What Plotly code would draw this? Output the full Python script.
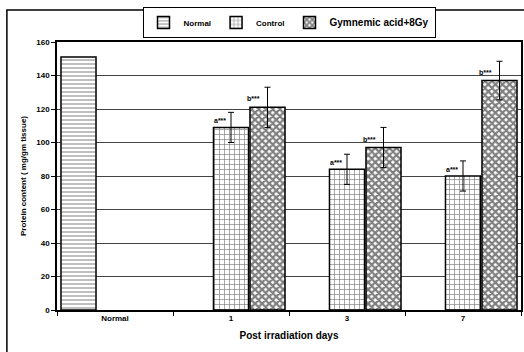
import plotly.graph_objects as go

categories = ["Normal", "1", "3", "7"]
normal_vals = [151, None, None, None]
control_vals = [None, 109, 84, 80]
control_err = [0, 9, 9, 9]
gym_vals = [None, 121, 97, 137]
gym_err = [0, 12, 12, 11.5]
control_labels = ["", "a***", "a***", "a***"]
gym_labels = ["", "b***", "b***", "b***"]
y_ticks = [0, 20, 40, 60, 80, 100, 120, 140, 160]

FONT = "Liberation Sans, Arial, sans-serif"

fig = go.Figure()
fig.add_trace(go.Bar(
    x=categories, y=normal_vals, name="Normal",
    marker=dict(color="white", line=dict(color="black", width=1.5),
                pattern=dict(shape="-", fgcolor="black", bgcolor="white", size=4, solidity=0.25)),
))
fig.add_trace(go.Bar(
    x=categories, y=control_vals, name="Control",
    marker=dict(color="white", line=dict(color="black", width=1.5),
                pattern=dict(shape="+", fgcolor="black", bgcolor="white", size=5, solidity=0.25)),
    error_y=dict(type="data", array=control_err, color="black", thickness=1, width=3),
))
fig.add_trace(go.Bar(
    x=categories, y=gym_vals, name="<span style='font-size:10px'>Gymnemic acid+8Gy</span>",
    marker=dict(color="white", line=dict(color="black", width=1.5),
                pattern=dict(shape="x", fgcolor="black", bgcolor="white", size=5, solidity=0.7)),
    error_y=dict(type="data", array=gym_err, color="black", thickness=1, width=3),
))

annotations = []
for i, (v, t) in enumerate(zip(control_vals, control_labels)):
    if v is not None and t:
        annotations.append(dict(x=i, y=v, xref="x", yref="y", text=t, showarrow=False,
                                xanchor="right", yanchor="bottom", xshift=-3, yshift=1,
                                font=dict(family=FONT, size=7, color="black", weight="bold")))
for i, (v, t) in enumerate(zip(gym_vals, gym_labels)):
    if v is not None and t:
        annotations.append(dict(x=i, y=v, xref="x", yref="y", text=t, showarrow=False,
                                xanchor="right", yanchor="bottom", xshift=31, yshift=3,
                                font=dict(family=FONT, size=7, color="black", weight="bold")))

fig.update_layout(
    width=524, height=352,
    margin=dict(l=57, r=3, t=42, b=42),
    paper_bgcolor="white", plot_bgcolor="white",
    barmode="group", bargap=0.056, bargroupgap=0.04,
    font=dict(family=FONT, color="black", size=8),
    legend=dict(orientation="h", x=0.5, xanchor="center", y=1.073, yanchor="middle",
                bordercolor="black", borderwidth=1, bgcolor="white",
                font=dict(family=FONT, size=8, color="black", weight="bold"),
                itemwidth=30, tracegroupgap=0),
    annotations=annotations,
    shapes=[dict(type="rect", xref="paper", yref="paper", x0=-0.108, x1=1.05, y0=-0.2, y1=1.119,
                 line=dict(color="black", width=1.5), fillcolor="rgba(0,0,0,0)", layer="below")],
    xaxis=dict(
        type="category", range=[-0.5, 3.5], showline=True, linecolor="black", linewidth=1.5, mirror=True,
        ticks="outside", tickson="boundaries", ticklen=4, tickcolor="black",
        tickfont=dict(family=FONT, size=8, weight="bold"),
        title=dict(text="Post irradiation days", font=dict(family=FONT, size=10, weight="bold"), standoff=10),
        automargin=False,
    ),
    yaxis=dict(
        range=[0, 160], tickvals=y_ticks, showline=True, linecolor="black", linewidth=1.5, mirror=True,
        ticks="outside", ticklen=4, tickcolor="black",
        showgrid=True, gridcolor="#444", gridwidth=1,
        tickfont=dict(family=FONT, size=8, weight="bold"),
        title=dict(text="Protein content ( mg/gm tissue)", font=dict(family=FONT, size=8, weight="bold"), standoff=8),
        automargin=False,
    ),
)

fig.write_html("out.html", config={"displayModeBar": False},
               post_script="document.body.style.margin='0px';")
